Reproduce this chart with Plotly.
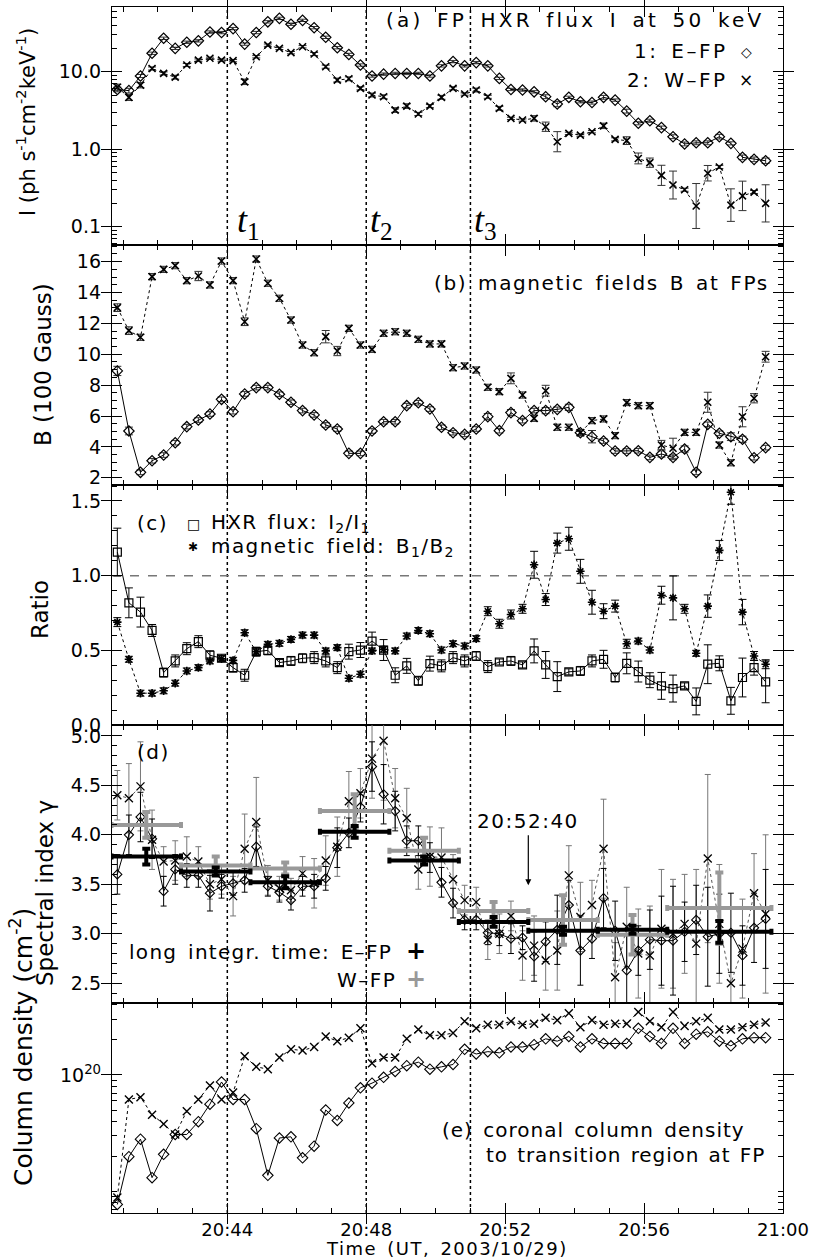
import plotly.graph_objects as go

# ---------------- data ----------------
times = ["20:40:50","20:41:10","20:41:30","20:41:50","20:42:10","20:42:30","20:42:50","20:43:10",
         "20:43:30","20:43:50","20:44:10","20:44:30","20:44:50","20:45:10","20:45:30","20:45:50",
         "20:46:10","20:46:30","20:46:50","20:47:10","20:47:30","20:47:50","20:48:10","20:48:30",
         "20:48:50","20:49:10","20:49:30","20:49:50","20:50:10","20:50:30","20:50:50","20:51:10",
         "20:51:30","20:51:50","20:52:10","20:52:30","20:52:50","20:53:10","20:53:30","20:53:50",
         "20:54:10","20:54:30","20:54:50","20:55:10","20:55:30","20:55:50","20:56:10","20:56:30",
         "20:56:50","20:57:10","20:57:30","20:57:50","20:58:10","20:58:30","20:58:50","20:59:10",
         "20:59:30"]

# (a) HXR flux at 50 keV
I_E = [5.9,5.7,8.8,17.3,27,20,24,25,32.5,32,36,22.7,32,44,48.8,41,46,37,27.8,20.4,16.7,12.2,8.8,9.3,
       9.5,9.5,9.5,8.8,11.9,13.5,11.9,13.1,11.9,8.2,5.9,5.8,5.5,4.76,3.83,4.67,4.1,4.0,4.67,4.3,3.1,
       2.16,2.33,1.9,1.45,1.17,1.21,1.21,1.45,1.19,0.785,0.74,0.71]
I_W = [6.3,4.67,6.7,11,9.5,8.5,12.2,14.1,14.9,14.1,13.9,7.4,15.6,22,20,17.6,21,16.9,11.6,7.8,8.1,6.1,
       5.0,4.75,3.2,3.6,2.85,3.6,4.67,6.1,5.15,5.8,4.75,3.37,2.5,2.38,2.5,1.95,1.25,1.6,1.52,1.68,2.0,
       1.34,1.29,0.76,0.67,0.46,0.345,0.3,0.185,0.49,0.59,0.19,0.25,0.28,0.2]
I_E_err_dex = [0.03,0.03,0.02,0.015,0.015,0.015,0.015,0.015,0.015,0.015,0.015,0.015,0.015,0.015,
               0.015,0.015,0.015,0.015,0.015,0.015,0.015,0.015,0.015,0.015,0.015,0.015,0.015,0.015,
               0.015,0.015,0.015,0.015,0.015,0.015,0.015,0.015,0.015,0.025,0.035,0.015,0.015,0.02,
               0.025,0.015,0.025,0.02,0.02,0.02,0.025,0.025,0.025,0.025,0.03,0.02,0.03,0.03,0.035]
I_W_err_dex = [0.04,0.04,0.035,0.02,0.02,0.025,0.02,0.015,0.015,0.015,0.015,0.035,0.015,0.015,0.015,
               0.015,0.015,0.02,0.02,0.025,0.025,0.02,0.025,0.025,0.03,0.03,0.02,0.02,0.025,0.02,
               0.015,0.025,0.02,0.025,0.015,0.015,0.035,0.06,0.13,0.015,0.015,0.015,0.035,0.02,0.05,
               0.07,0.06,0.13,0.18,0.02,0.29,0.1,0.02,0.21,0.19,0.02,0.24]

# (b) magnetic field (100 G)
B_E = [8.92,5.03,2.35,3.1,3.47,4.27,5.31,5.74,6.13,7.08,6.28,7.43,7.84,7.84,7.41,6.89,6.35,6.07,5.42,
       5.16,3.58,3.58,5.03,5.63,5.63,6.67,6.86,6.45,5.27,4.92,4.81,5.16,5.96,5.05,6.22,5.7,6.35,6.35,
       6.43,6.56,4.92,4.66,4.38,3.73,3.73,3.75,3.32,3.54,3.32,3.86,2.35,5.46,4.88,4.66,4.49,3.3,3.95]
B_W = [13.02,11.53,11.1,15.03,15.5,15.74,14.77,15.07,14.49,16.04,14.77,12.11,16.17,14.6,13.63,12.22,
       10.6,10.1,11.14,10.21,11.68,10.6,10.32,11.36,11.46,11.36,10.97,10.67,10.67,9.13,9.24,8.98,
       7.86,7.58,8.44,7.36,5.85,7.64,5.27,5.27,4.92,5.7,5.81,4.73,6.87,6.67,6.67,4.12,3.91,4.94,4.94,
       6.89,4.12,2.97,5.95,7.15,9.84]
B_E_err = [0.3,0.25,0.15,0.15,0.15,0.15,0.15,0.15,0.15,0.15,0.15,0.15,0.15,0.15,0.15,0.15,0.15,0.15,
           0.15,0.15,0.15,0.15,0.15,0.15,0.15,0.15,0.15,0.15,0.15,0.15,0.15,0.15,0.2,0.15,0.2,0.15,0.15,
           0.2,0.15,0.2,0.2,0.4,0.15,0.15,0.15,0.15,0.15,0.2,0.15,0.2,0.15,0.15,0.15,0.25,0.2,0.15,0.15]
B_W_err = [0.25,0.25,0.2,0.2,0.2,0.2,0.2,0.3,0.2,0.2,0.2,0.25,0.2,0.2,0.2,0.2,0.2,0.2,0.4,0.3,0.2,0.2,
           0.2,0.2,0.2,0.2,0.2,0.2,0.2,0.2,0.2,0.2,0.2,0.2,0.35,0.2,0.2,0.35,0.2,0.2,0.2,0.2,0.2,0.2,
           0.2,0.2,0.2,0.3,0.65,0.2,0.2,0.65,0.2,0.2,0.65,0.3,0.35]

# (c) ratios
R_I = [1.158,0.818,0.756,0.633,0.351,0.429,0.511,0.558,0.467,0.447,0.384,0.333,0.491,0.5,0.418,0.429,
       0.447,0.451,0.429,0.384,0.491,0.502,0.562,0.502,0.333,0.396,0.296,0.411,0.396,0.451,0.429,0.462,
       0.391,0.422,0.429,0.402,0.496,0.402,0.324,0.356,0.362,0.429,0.44,0.318,0.413,0.358,0.3,0.262,
       0.244,0.262,0.158,0.407,0.413,0.162,0.318,0.384,0.289]
R_I_err = [0.16,0.1,0.1,0.04,0.03,0.04,0.04,0.04,0.03,0.02,0.03,0.04,0.03,0.03,0.02,0.03,0.03,0.04,0.04,
           0.04,0.05,0.05,0.06,0.07,0.05,0.05,0.03,0.05,0.04,0.04,0.04,0.03,0.04,0.02,0.03,0.02,0.08,
           0.09,0.1,0.02,0.03,0.04,0.06,0.03,0.07,0.07,0.05,0.09,0.09,0.02,0.09,0.13,0.05,0.09,0.13,
           0.05,0.14]
R_B = [0.689,0.44,0.213,0.213,0.229,0.28,0.362,0.384,0.429,0.444,0.433,0.618,0.491,0.54,0.547,0.573,
       0.602,0.602,0.496,0.518,0.313,0.34,0.496,0.507,0.496,0.596,0.633,0.611,0.502,0.544,0.529,0.578,
       0.762,0.678,0.74,0.778,1.073,0.84,1.218,1.247,1.029,0.822,0.762,0.796,0.544,0.562,0.502,0.869,
       0.851,0.778,0.48,0.796,1.169,1.558,0.756,0.462,0.407]
R_B_err = [0.03,0.02,0.02,0.02,0.02,0.02,0.02,0.02,0.02,0.02,0.02,0.02,0.02,0.02,0.02,0.02,0.02,0.02,
           0.02,0.02,0.02,0.02,0.02,0.02,0.02,0.02,0.02,0.02,0.02,0.02,0.02,0.02,0.03,0.03,0.03,0.03,
           0.09,0.04,0.067,0.077,0.08,0.08,0.05,0.04,0.03,0.02,0.02,0.06,0.147,0.03,0.02,0.075,0.067,
           0.08,0.085,0.03,0.03]

# (d) spectral index
G_E = [3.60,4.0,4.18,3.96,3.43,3.65,3.59,3.59,3.41,3.48,3.51,3.54,3.88,3.48,3.42,3.34,3.48,3.48,3.56,
       3.87,4.02,4.28,4.69,4.41,4.24,3.94,3.94,3.77,3.52,3.31,3.14,3.14,3.01,3.0,2.95,2.96,2.77,2.92,
       3.04,3.29,2.83,2.95,3.36,3.03,2.63,2.83,2.94,2.93,2.93,3.02,3.14,2.97,3.0,3.01,2.78,3.06,3.15]
G_E_err = [0.2,0.2,0.25,0.2,0.15,0.15,0.12,0.12,0.18,0.12,0.12,0.12,0.2,0.1,0.1,0.1,0.1,0.12,0.12,0.2,
           0.15,0.15,0.25,0.3,0.2,0.15,0.15,0.15,0.15,0.15,0.1,0.1,0.12,0.12,0.15,0.12,0.25,0.2,0.35,
           0.25,0.35,0.2,0.3,0.3,0.35,0.25,0.3,0.45,0.55,0.3,0.35,0.5,0.4,0.4,0.3,0.35,0.5]
G_W = [4.40,4.37,4.49,3.95,3.73,3.74,3.78,3.73,3.5,3.55,3.38,3.86,4.13,3.54,3.46,3.44,3.61,3.51,3.74,
       3.88,4.34,4.42,4.77,4.95,4.37,4.17,3.65,3.78,3.77,3.55,3.34,3.32,2.94,3.0,3.18,2.78,2.88,2.73,
       2.83,3.59,3.17,3.29,3.86,2.56,3.07,2.80,2.78,3.05,3.0,3.10,2.90,3.76,3.1,2.5,2.85,3.41,3.2]
G_W_err = [0.25,0.35,0.45,0.3,0.15,0.2,0.2,0.15,0.15,0.15,0.2,0.35,0.45,0.15,0.12,0.12,0.17,0.25,0.25,
           0.3,0.3,0.25,0.4,0.6,0.3,0.3,0.2,0.3,0.3,0.25,0.15,0.15,0.2,0.2,0.15,0.25,0.3,0.3,0.4,0.3,
           0.35,0.25,0.5,0.35,0.4,0.45,0.5,0.6,0.55,0.5,0.75,0.85,0.6,0.5,0.5,0.4,0.8]

# long integration intervals
long_t0 = ["20:40:40","20:42:40","20:44:40","20:46:40","20:48:40","20:50:40","20:52:40","20:54:40","20:56:40"]
long_t1 = ["20:42:40","20:44:40","20:46:40","20:48:40","20:50:40","20:52:40","20:54:40","20:56:40","20:59:40"]
long_G_E = [3.78,3.63,3.52,4.03,3.74,3.12,3.03,3.04,3.02]
long_G_E_err = [0.08,0.04,0.06,0.06,0.04,0.05,0.04,0.04,0.11]
long_G_W = [4.10,3.69,3.66,4.24,3.84,3.23,3.14,2.99,3.26]
long_G_W_err = [0.13,0.09,0.06,0.17,0.13,0.09,0.25,0.20,0.36]

# (e) coronal column density (log10 cm^-2)
logN_E = [18.89,19.30,19.45,19.12,19.32,19.49,19.49,19.60,19.75,19.94,19.79,19.79,19.54,19.14,19.46,
          19.47,19.29,19.39,19.70,19.61,19.76,19.89,19.93,19.98,20.03,20.08,20.11,20.05,20.07,20.09,
          20.22,20.18,20.20,20.19,20.24,20.24,20.26,20.31,20.29,20.33,20.24,20.31,20.27,20.27,20.27,
          20.40,20.33,20.27,20.40,20.27,20.35,20.37,20.29,20.25,20.31,20.32,20.32]
logN_W = [18.95,19.79,19.81,19.66,19.58,19.49,19.69,19.79,19.91,19.79,19.85,20.16,20.07,20.05,20.15,
          20.22,20.21,20.24,20.33,20.29,20.32,20.40,20.10,20.15,20.15,20.31,20.39,20.34,20.34,20.36,
          20.46,20.40,20.43,20.43,20.46,20.43,20.44,20.49,20.47,20.53,20.41,20.47,20.43,20.44,20.44,
          20.54,20.46,20.41,20.54,20.42,20.46,20.49,20.39,20.39,20.41,20.43,20.45]

x_tick_times = ["20:44:00","20:48:00","20:52:00","20:56:00","21:00:00"]
x_tick_text = ["20:44","20:48","20:52","20:56","21:00"]
t_marks = ["20:44:00","20:48:00","20:51:00"]
t_names = ["1","2","3"]
arrow_time = "20:52:40"

# ---------------- helpers ----------------
def tmin(s):
    h, m, sec = (int(v) for v in s.split(":"))
    return (h - 20) * 60 + m + sec / 60.0

x = [tmin(s) for s in times]
xt = [tmin(s) for s in x_tick_times]
XR = [40.68, 60.0]

W, H = 815, 1258
L, R, T, Bm = 112, 32, 7, 45
PW, PH = W - L - R, H - T - Bm
def px(xp): return (xp - L) / PW
def py(yp): return (H - Bm - yp) / PH

bounds = [7, 245, 485, 725, 1003, 1213]
doms = [[py(bounds[i + 1]), py(bounds[i])] for i in range(5)]

FONT = "DejaVu Sans"
GRAY = "#999999"
def sp(s, ls=2.0, ws=3.0):
    return '<span style="letter-spacing:%.1fpx;word-spacing:%.1fpx">%s</span>' % (ls, ws, s)

fig = go.Figure()

def logerr(vals, dex):
    up = [v * (10 ** d - 1) for v, d in zip(vals, dex)]
    dn = [v * (1 - 10 ** (-d)) for v, d in zip(vals, dex)]
    return up, dn

# (a)
up, dn = logerr(I_E, I_E_err_dex)
fig.add_trace(go.Scatter(x=x, y=I_E, xaxis="x", yaxis="y", mode="lines+markers",
    line=dict(color="black", width=1),
    marker=dict(symbol="diamond-open", size=8, color="black", line=dict(width=1.2)),
    error_y=dict(type="data", symmetric=False, array=up, arrayminus=dn, color="#333", thickness=1, width=4)))
up, dn = logerr(I_W, I_W_err_dex)
fig.add_trace(go.Scatter(x=x, y=I_W, xaxis="x", yaxis="y", mode="lines+markers",
    line=dict(color="black", width=1, dash="dot"),
    marker=dict(symbol="x-thin-open", size=7, color="black", line=dict(width=1.6)),
    error_y=dict(type="data", symmetric=False, array=up, arrayminus=dn, color="#333", thickness=1, width=4)))

# (b)
fig.add_trace(go.Scatter(x=x, y=B_E, xaxis="x2", yaxis="y2", mode="lines+markers",
    line=dict(color="black", width=1),
    marker=dict(symbol="diamond-open", size=8, color="black", line=dict(width=1.2)),
    error_y=dict(type="data", array=B_E_err, color="#333", thickness=1, width=4)))
fig.add_trace(go.Scatter(x=x, y=B_W, xaxis="x2", yaxis="y2", mode="lines+markers",
    line=dict(color="black", width=1, dash="dot"),
    marker=dict(symbol="x-thin-open", size=7, color="black", line=dict(width=1.6)),
    error_y=dict(type="data", array=B_W_err, color="#333", thickness=1, width=4)))

# (c)
fig.add_trace(go.Scatter(x=x, y=R_I, xaxis="x3", yaxis="y3", mode="lines+markers",
    line=dict(color="black", width=1),
    marker=dict(symbol="square-open", size=8, color="black", line=dict(width=1.2)),
    error_y=dict(type="data", array=R_I_err, color="black", thickness=1, width=4)))
fig.add_trace(go.Scatter(x=x, y=R_B, xaxis="x3", yaxis="y3", mode="lines+markers",
    line=dict(color="black", width=1, dash="dot"),
    marker=dict(symbol="asterisk-open", size=7, color="black", line=dict(width=1.6)),
    error_y=dict(type="data", array=R_B_err, color="black", thickness=1, width=4)))

# (d)
fig.add_trace(go.Scatter(x=x, y=G_W, xaxis="x4", yaxis="y4", mode="lines+markers",
    line=dict(color="#555", width=1, dash="dot"),
    marker=dict(symbol="x-thin-open", size=8, color="black", line=dict(width=1.3)),
    error_y=dict(type="data", array=G_W_err, color="#777", thickness=1, width=3)))
fig.add_trace(go.Scatter(x=x, y=G_E, xaxis="x4", yaxis="y4", mode="lines+markers",
    line=dict(color="black", width=1),
    marker=dict(symbol="diamond-open", size=7, color="black", line=dict(width=1.1)),
    error_y=dict(type="data", array=G_E_err, color="black", thickness=1, width=3)))

lc = [(tmin(a) + tmin(b)) / 2 for a, b in zip(long_t0, long_t1)]
lh = [(tmin(b) - tmin(a)) / 2 for a, b in zip(long_t0, long_t1)]
fig.add_trace(go.Scatter(x=lc, y=long_G_W, xaxis="x4", yaxis="y4", mode="markers",
    marker=dict(size=1, color=GRAY),
    error_x=dict(type="data", array=lh, color=GRAY, thickness=4, width=3),
    error_y=dict(type="data", array=long_G_W_err, color=GRAY, thickness=4, width=4)))
fig.add_trace(go.Scatter(x=lc, y=long_G_E, xaxis="x4", yaxis="y4", mode="markers",
    marker=dict(size=1, color="black"),
    error_x=dict(type="data", array=lh, color="black", thickness=4, width=3),
    error_y=dict(type="data", array=long_G_E_err, color="black", thickness=4, width=4)))

# (e)
fig.add_trace(go.Scatter(x=x, y=[10 ** v for v in logN_W], xaxis="x5", yaxis="y5", mode="lines+markers",
    line=dict(color="black", width=1, dash="dot"),
    marker=dict(symbol="x-thin-open", size=8, color="black", line=dict(width=1.4))))
fig.add_trace(go.Scatter(x=x, y=[10 ** v for v in logN_E], xaxis="x5", yaxis="y5", mode="lines+markers",
    line=dict(color="black", width=1),
    marker=dict(symbol="diamond-open", size=8, color="black", line=dict(width=1.1))))

# ---------------- axes ----------------
tickfont = dict(family=FONT, size=19, color="black")
xtickfont = dict(family=FONT, size=18, color="black")
LW = 1.3
common_x = dict(range=XR, showline=True, linecolor="black", linewidth=LW, mirror="allticks",
                ticks="inside", ticklen=10, tickwidth=1.3, tickcolor="black",
                tickmode="array", tickvals=xt, ticktext=x_tick_text,
                showgrid=False, zeroline=False, tickfont=xtickfont, ticklabelstandoff=0)
common_y = dict(showline=True, linecolor="black", linewidth=LW, mirror="allticks",
                ticks="inside", ticklen=10, tickwidth=1.3, tickcolor="black",
                showgrid=False, zeroline=False, tickfont=tickfont, ticklabelstandoff=6)
minor_common = dict(showline=True, linecolor="black", linewidth=LW, mirror="allticks",
                    ticks="inside", ticklen=5, tickwidth=1.1, tickcolor="black",
                    showgrid=False, zeroline=False, showticklabels=False, tickmode="array")

layout = dict(width=W, height=H, margin=dict(l=L, r=R, t=T, b=Bm), showlegend=False,
              plot_bgcolor="white", paper_bgcolor="white")
names = ["", "2", "3", "4", "5"]
for i, n in enumerate(names):
    ax = dict(common_x)
    ax["anchor"] = "y" + n
    ax["showticklabels"] = (i == 4)
    if i > 0:
        ax["matches"] = "x"
    layout["xaxis" + n] = ax

minor_x = [float(v) for v in range(41, 60)]
minor_a = [m * 10 ** e for e in (-2, -1, 0, 1) for m in range(2, 10)]
minor_b = [2 + 0.5 * k for k in range(31)]
minor_c = [0.1 * k for k in range(17)]
minor_d = [2.3 + 0.1 * k for k in range(29)]
minor_e = [m * 1e18 for m in range(6, 10)] + [m * 1e19 for m in range(1, 10)] + [m * 1e20 for m in range(2, 5)]

ycfg = [
    dict(type="log", range=[-1.236, 1.835], tickvals=[0.1, 1, 10], ticktext=["0.1", "1.0", "10.0"], minor=minor_a),
    dict(type="linear", range=[1.53, 17.08], tickvals=[2, 4, 6, 8, 10, 12, 14, 16],
         ticktext=["2", "4", "6", "8", "10", "12", "14", "16"], minor=minor_b),
    dict(type="linear", range=[0.0, 1.607], tickvals=[0, 0.5, 1.0, 1.5], ticktext=["0.0", "0.5", "1.0", "1.5"],
         minor=minor_c),
    dict(type="linear", range=[2.3, 5.11], tickvals=[2.5, 3.0, 3.5, 4.0, 4.5, 5.0],
         ticktext=["2.5", "3.0", "3.5", "4.0", "4.5", "5.0"], minor=minor_d),
    dict(type="log", range=[18.817, 20.617], tickvals=[1e20], ticktext=["10<sup>20</sup>"], minor=minor_e),
]
for i, n in enumerate(names):
    c = ycfg[i]
    layout["yaxis" + n] = dict(common_y, domain=doms[i], anchor="x" + n, type=c["type"], range=c["range"],
                               tickmode="array", tickvals=c["tickvals"], ticktext=c["ticktext"])
    mx = "xaxis%d" % (6 + i)
    my = "yaxis%d" % (6 + i)
    layout[mx] = dict(minor_common, overlaying="x" + n, anchor="y" + n, range=XR, tickvals=minor_x)
    layout[my] = dict(minor_common, overlaying="y" + n, anchor="x" + n, type=c["type"], range=c["range"],
                      tickvals=c["minor"])
fig.update_layout(**layout)

for i, n in enumerate(names):
    fig.add_trace(go.Scatter(x=[None], y=[None], xaxis="x%d" % (6 + i), yaxis="y" + n,
                             mode="markers", hoverinfo="skip"))
    fig.add_trace(go.Scatter(x=[None], y=[None], xaxis="x" + n, yaxis="y%d" % (6 + i),
                             mode="markers", hoverinfo="skip"))

# ---------------- shapes ----------------
for tm in t_marks:
    fig.add_shape(type="line", xref="x", yref="paper", x0=tmin(tm), x1=tmin(tm), y0=0, y1=1,
                  line=dict(color="black", width=1.5, dash="dot"), layer="below")
fig.add_shape(type="line", xref="paper", yref="y3", x0=0, x1=1, y0=1.0, y1=1.0,
              line=dict(color="#777", width=1.5, dash="dash"), layer="below")

# ---------------- annotations ----------------
def txt(xp, yp, s, size=19, xanchor="left", yanchor="middle", color="black", family=FONT, angle=0):
    fig.add_annotation(xref="paper", yref="paper", x=px(xp), y=py(yp), text=s, showarrow=False,
                       xanchor=xanchor, yanchor=yanchor, textangle=angle,
                       font=dict(family=family, size=size, color=color))

txt(766, 20, sp("(a) FP HXR flux I at 50 keV", 3.2, 4), size=20, xanchor="right")
txt(730, 51, sp("1: E–FP", 2.5, 4), size=20, xanchor="right")
txt(746, 52, "◇", size=14, xanchor="center")
txt(730, 80, sp("2: W–FP", 2.5, 4), size=20, xanchor="right")
txt(746, 80, "×", size=17, xanchor="center")

for tm, nm, dx in zip(t_marks, t_names, [8, 2, 2]):
    xp = L + (tmin(tm) - XR[0]) / (XR[1] - XR[0]) * PW
    txt(xp + dx, 222, "<i>t</i><sub>" + nm + "</sub>", size=36, family="Liberation Serif")

txt(771, 283, sp("(b) magnetic fields B at FPs", 1.6, 3), size=20, xanchor="right")

txt(135, 523, sp("(c)", 1.5, 3), size=20, xanchor="left")
txt(193, 524, "□", size=14, xanchor="center")
txt(209, 523, sp("HXR flux: I<sub>2</sub>/I<sub>1</sub>", 1.2, 3), size=20, xanchor="left")
txt(193, 547, "✱", size=12, xanchor="center")
txt(209, 547, sp("magnetic field: B<sub>1</sub>/B<sub>2</sub>", 1.4, 3), size=20, xanchor="left")

txt(135, 752, sp("(d)", 1.5, 3), size=20, xanchor="left")
txt(127, 952, sp("long integr. time: E–FP", 1.3, 3), size=20, xanchor="left")
txt(416, 951, "<b>+</b>", size=24, xanchor="center")
txt(398, 980, sp("W–FP", 1.5, 3), size=20, xanchor="right")
txt(416, 979, "<b>+</b>", size=24, xanchor="center", color=GRAY)

fig.add_annotation(xref="x4", yref="y4", x=tmin(arrow_time), y=3.49, ax=0, ay=-50,
                   text=sp("20:52:40", 1.5, 3), showarrow=True, arrowhead=2, arrowsize=1, arrowwidth=1.2,
                   arrowcolor="black", yanchor="bottom",
                   font=dict(family=FONT, size=20, color="black"))

txt(440, 1130, sp("(e) coronal column density", 1.0, 3), size=20, xanchor="left")
txt(484, 1155, sp("to transition region at FP", 0.9, 2), size=20, xanchor="left")

# axis titles
txt(447, 1248, sp("Time (UT, 2003/10/29)", 1.5, 3), xanchor="center", size=18)
txt(26, 122, "I (ph s<sup>-1</sup>cm<sup>-2</sup>keV<sup>-1</sup>)", size=21, xanchor="center", angle=-90)
txt(43, 365, "B (100 Gauss)", size=23, xanchor="center", angle=-90)
txt(40, 610, "Ratio", size=23, xanchor="center", angle=-90)
txt(45, 893, "Spectral index γ", size=23, xanchor="center", angle=-90)
txt(21, 1047, "Column density (cm<sup>-2</sup>)", size=25, xanchor="center", angle=-90)

fig.write_html("out.html")
